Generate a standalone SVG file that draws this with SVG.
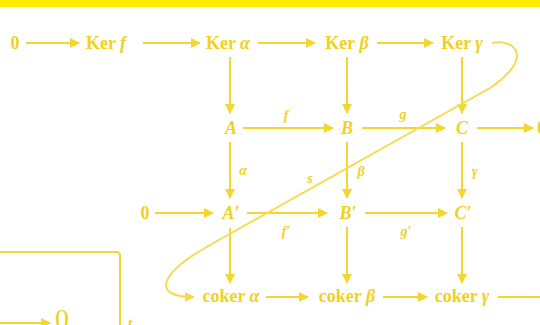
<svg xmlns="http://www.w3.org/2000/svg" width="540" height="325" viewBox="0 0 540 325">
  <style>
    .lbl { font-family: "Liberation Serif", "DejaVu Serif", serif; font-size: 18px; font-weight: bold; fill: #F2D11C; text-anchor: middle; }
    .it { font-style: italic; }
    .sm { font-family: "Liberation Serif", "DejaVu Serif", serif; font-size: 14px; font-style: italic; font-weight: bold; fill: #F2D11C; text-anchor: middle; }
    .ar { stroke: #F4D630; stroke-width: 2; fill: none; marker-end: url(#head); }
    .ln { stroke: #F4D630; stroke-width: 2; fill: none; }
    .snake { stroke: #F6DB4E; stroke-width: 2; fill: none; marker-end: url(#head2); }
  </style>
  <defs>
    <marker id="head" viewBox="0 0 10 10" refX="9" refY="5" markerWidth="5" markerHeight="5" orient="auto" markerUnits="strokeWidth">
      <path d="M0,0 L10,5 L0,10 z" fill="#F4D630"/>
    </marker>
    <marker id="head2" viewBox="0 0 10 10" refX="9" refY="5" markerWidth="5" markerHeight="5" orient="auto" markerUnits="strokeWidth">
      <path d="M0,0 L10,5 L0,10 z" fill="#F6DB4E"/>
    </marker>
  </defs>

  <rect x="0" y="0" width="540" height="7" fill="#FFEC00"/>

  <!-- connectors -->
  <g id="connectors">
    <!-- row of kernels -->
    <line class="ar" x1="26" y1="43" x2="79" y2="43"/>
    <line class="ar" x1="143" y1="43" x2="200" y2="43"/>
    <line class="ar" x1="258" y1="43" x2="315" y2="43"/>
    <line class="ar" x1="377" y1="43" x2="433" y2="43"/>
    <!-- kernels down -->
    <line class="ar" x1="230" y1="57" x2="230" y2="113"/>
    <line class="ar" x1="347" y1="57" x2="347" y2="113"/>
    <line class="ar" x1="462" y1="57" x2="462" y2="113"/>
    <!-- top exact row -->
    <line class="ar" x1="243" y1="128" x2="333" y2="128"/>
    <line class="ar" x1="362" y1="128" x2="445" y2="128"/>
    <line class="ar" x1="477" y1="128" x2="533" y2="128"/>
    <!-- vertical maps -->
    <line class="ar" x1="230" y1="142" x2="230" y2="198"/>
    <line class="ar" x1="347" y1="142" x2="347" y2="198"/>
    <line class="ar" x1="462" y1="142" x2="462" y2="198"/>
    <!-- bottom exact row -->
    <line class="ar" x1="155" y1="213" x2="213" y2="213"/>
    <line class="ar" x1="247" y1="213" x2="327" y2="213"/>
    <line class="ar" x1="365" y1="213" x2="447" y2="213"/>
    <!-- down to cokernels -->
    <line class="ar" x1="230" y1="228" x2="230" y2="283"/>
    <line class="ar" x1="347" y1="227" x2="347" y2="283"/>
    <line class="ar" x1="462" y1="227" x2="462" y2="283"/>
    <!-- cokernel row -->
    <line class="ar" x1="266" y1="297" x2="308" y2="297"/>
    <line class="ar" x1="383" y1="297" x2="427" y2="297"/>
    <line class="ln" x1="498" y1="297" x2="541" y2="297"/>
    <!-- connecting map -->
    <path class="snake" d="M492,43 C515,38 535,58 490,88 L210,245 C160,273 150,297 194,297"/>
    <!-- lower-left frame -->
    <path class="ln" d="M-2,252 H116 Q120,252 120,256 V327"/>
    <line class="ar" x1="-2" y1="323" x2="50" y2="323"/>
  </g>

  <!-- nodes -->
  <g id="n-zero1"><text class="lbl" x="15" y="49">0</text></g>
  <g id="n-kerf"><text class="lbl" x="106" y="49">Ker <tspan class="it">f</tspan></text></g>
  <g id="n-keralpha"><text class="lbl" x="228" y="49">Ker <tspan class="it">α</tspan></text></g>
  <g id="n-kerbeta"><text class="lbl" x="347" y="49">Ker <tspan class="it">β</tspan></text></g>
  <g id="n-kergamma"><text class="lbl" x="462" y="49">Ker <tspan class="it">γ</tspan></text></g>

  <g id="n-A"><text class="lbl it" x="231" y="134">A</text></g>
  <g id="n-B"><text class="lbl it" x="347" y="134">B</text></g>
  <g id="n-C"><text class="lbl it" x="462" y="134">C</text></g>
  <g id="n-zero-r"><text class="lbl" x="537" y="134" style="text-anchor:start">0</text></g>

  <g id="n-zero2"><text class="lbl" x="145" y="219">0</text></g>
  <g id="n-A2"><text class="lbl it" x="231" y="219">A′</text></g>
  <g id="n-B2"><text class="lbl it" x="348" y="219">B′</text></g>
  <g id="n-C2"><text class="lbl it" x="463" y="219">C′</text></g>

  <g id="n-cokalpha"><text class="lbl" x="231" y="302">coker <tspan class="it">α</tspan></text></g>
  <g id="n-cokbeta"><text class="lbl" x="347" y="302">coker <tspan class="it">β</tspan></text></g>
  <g id="n-cokgamma"><text class="lbl" x="462" y="302">coker <tspan class="it">γ</tspan></text></g>

  <g id="n-zero3"><text class="lbl" x="62" y="328" style="font-size:28px;font-weight:normal">0</text></g>
  <g id="n-cut"><text class="sm" x="130" y="329" style="font-size:16px">t</text></g>

  <!-- map labels -->
  <g id="labels">
    <text class="sm" x="286" y="120">f</text>
    <text class="sm" x="403" y="119">g</text>
    <text class="sm" x="243" y="175">α</text>
    <text class="sm" x="361" y="176">β</text>
    <text class="sm" x="475" y="176">γ</text>
    <text class="sm" x="310" y="183">s</text>
    <text class="sm" x="286" y="236">f′</text>
    <text class="sm" x="406" y="236">g′</text>
  </g>
</svg>
